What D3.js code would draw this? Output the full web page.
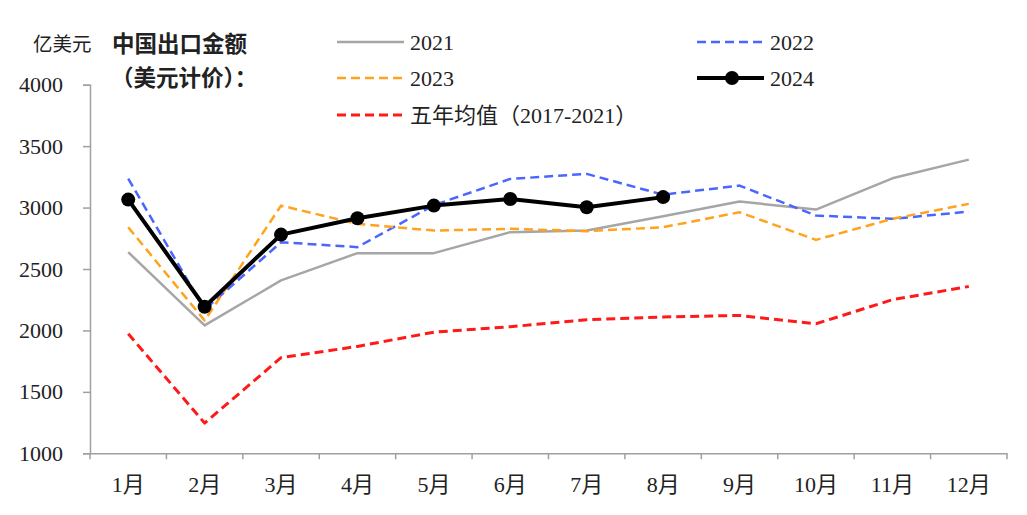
<!DOCTYPE html>
<html>
<head>
<meta charset="utf-8">
<script src="https://cdn.jsdelivr.net/npm/d3@7"></script>
<style>
  html, body { margin: 0; padding: 0; background: #fff; }
  svg { display: block; }
  text { font-family: "Liberation Serif", "Noto Sans CJK SC", serif; fill: #222; }
</style>
</head>
<body>
<svg id="chart" width="1027" height="515"></svg>
<script>
const months = ["1月","2月","3月","4月","5月","6月","7月","8月","9月","10月","11月","12月"];
const yTicks = [1000, 1500, 2000, 2500, 3000, 3500, 4000];

const s2021 = [2637, 2041, 2407, 2629, 2629, 2800, 2813, 2930, 3049, 2984, 3238, 3390];
const s2022 = [3236, 2170, 2718, 2678, 3020, 3233, 3274, 3105, 3179, 2935, 2908, 2967];
const s2023 = [2840, 2081, 3016, 2867, 2813, 2827, 2808, 2840, 2962, 2737, 2908, 3030];
const s2024 = [3065, 2193, 2780, 2913, 3016, 3070, 3002, 3085];
const sAvg  = [1973, 1246, 1778, 1870, 1986, 2030, 2087, 2110, 2122, 2054, 2250, 2358];

const seriesNames = ["2021", "2022", "2023", "2024", "五年均值（2017-2021）"];

const svg = d3.select("#chart");
const pLeft = 90, pRight = 1007, pTop = 84.7, pBottom = 453.3;

const x = d3.scaleBand().domain(months).range([pLeft, pRight]).padding(0);
const y = d3.scaleLinear().domain([1000, 4000]).range([pBottom, pTop]);
const cx = i => x(months[i]) + x.bandwidth() / 2;

const axisColor = "#a0a0a0";

// Y axis
const gy = svg.append("g").attr("transform", `translate(${pLeft},0)`)
  .call(d3.axisLeft(y).tickValues(yTicks).tickSize(7).tickPadding(20).tickFormat(d3.format("d")));
gy.select(".domain").attr("stroke", axisColor).attr("stroke-width", 1.5);
gy.selectAll(".tick line").attr("stroke", axisColor).attr("stroke-width", 1.5);
gy.selectAll(".tick text").style("font-size", "22px").attr("fill", "#222");

// X axis (labels centered in bands, ticks at band boundaries)
const gx = svg.append("g").attr("transform", `translate(0,${pBottom})`)
  .call(d3.axisBottom(x).tickSize(0).tickPadding(23).tickSizeOuter(0));
gx.select(".domain").attr("stroke", axisColor).attr("stroke-width", 1.5);
gx.selectAll(".tick text").style("font-size", "22px").attr("fill", "#222");
const bounds = months.map(m => x(m)).concat([x.range()[1]]);
gx.selectAll(".bt").data(bounds).enter().append("line")
  .attr("x1", d => d).attr("x2", d => d).attr("y1", 0).attr("y2", 6)
  .attr("stroke", axisColor).attr("stroke-width", 1.5);

// Lines
const line = d3.line().x((d, i) => cx(i)).y(d => y(d));
const styles = [
  { data: s2021, color: "#a6a6a6", w: 2.5, dash: null },
  { data: s2022, color: "#4a66ff", w: 2.5, dash: "9,5" },
  { data: s2023, color: "#ffa21c", w: 2.5, dash: "9,5" },
  { data: sAvg,  color: "#ff1a1a", w: 3,   dash: "9,5" },
  { data: s2024, color: "#000000", w: 4,   dash: null }
];
styles.forEach(s => {
  svg.append("path").datum(s.data)
    .attr("d", line).attr("fill", "none")
    .attr("stroke", s.color).attr("stroke-width", s.w)
    .attr("stroke-dasharray", s.dash).attr("stroke-linejoin", "round");
});
svg.selectAll(".dot").data(s2024).enter().append("circle")
  .attr("cx", (d, i) => cx(i)).attr("cy", d => y(d)).attr("r", 7).attr("fill", "#000");

// Titles
svg.append("text").attr("x", 33).attr("y", 51).text("亿美元")
  .style("font-family", "'Noto Sans CJK SC'").style("font-size", "19.5px").attr("fill", "#333");
svg.append("text").attr("x", 112).attr("y", 52).text("中国出口金额")
  .style("font-family", "'Noto Sans CJK SC'").style("font-size", "22.5px").style("font-weight", "bold").attr("fill", "#111");
svg.append("text").attr("x", 111).attr("y", 86).text("（美元计价）：")
  .style("font-family", "'Noto Sans CJK SC'").style("font-size", "22.5px").style("font-weight", "bold").attr("fill", "#111");

// Legend
const legend = [
  { name: seriesNames[0], x: 337, y: 42, st: styles[0], dot: false },
  { name: seriesNames[1], x: 697, y: 42, st: styles[1], dot: false },
  { name: seriesNames[2], x: 337, y: 78, st: styles[2], dot: false },
  { name: seriesNames[3], x: 697, y: 78, st: styles[4], dot: true },
  { name: seriesNames[4], x: 337, y: 115, st: styles[3], dot: false }
];
legend.forEach(l => {
  const g = svg.append("g");
  g.append("line").attr("x1", l.x).attr("x2", l.x + 67).attr("y1", l.y).attr("y2", l.y)
    .attr("stroke", l.st.color).attr("stroke-width", l.st.w).attr("stroke-dasharray", l.st.dash);
  if (l.dot) g.append("circle").attr("cx", l.x + 35).attr("cy", l.y).attr("r", 7).attr("fill", "#000");
  g.append("text").attr("x", l.x + 73).attr("y", l.y).attr("dy", "0.35em").text(l.name)
    .style("font-size", "22px").attr("fill", "#222");
});
</script>
</body>
</html>
